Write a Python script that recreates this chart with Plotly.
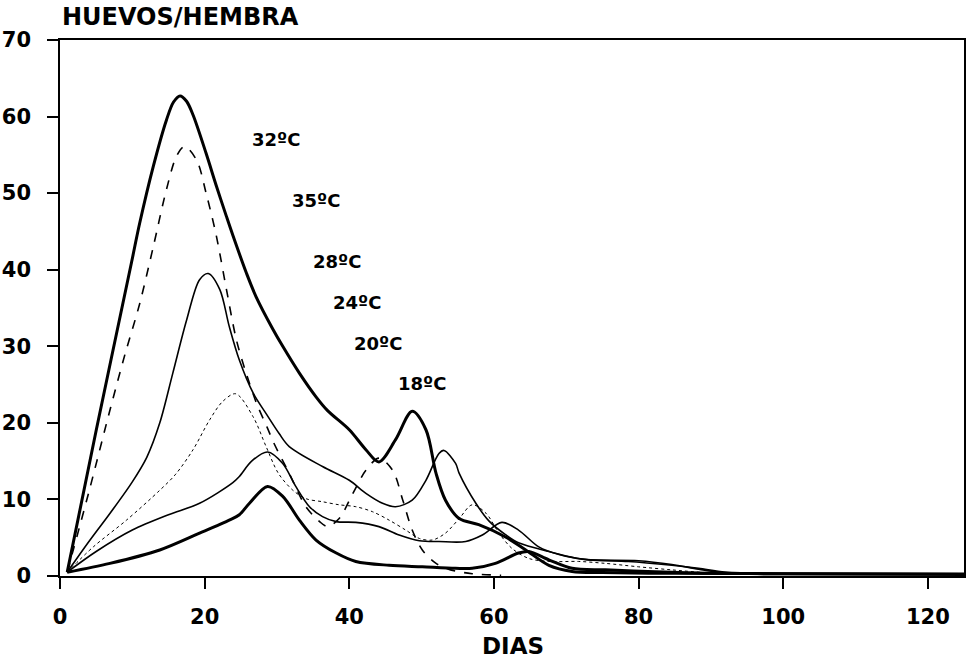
import plotly.graph_objects as go

# ---- data (days, eggs per female) ----
x_32 = [1, 5, 9.9, 11, 12.9, 14.7, 15.7, 16.6, 17.5, 18.4, 20.2, 21.6, 23, 23.9, 25.8, 27.1, 29.4, 30.8, 33.1, 35.4, 37, 40, 42.3, 44.1, 46.4, 48.7, 50.6, 52, 53.3, 55.2, 57.9, 61.6, 64.4, 67.6, 70.8, 75, 85, 100, 125]
y_32 = [0.5, 19, 41, 46, 53.5, 59.5, 61.9, 62.7, 62.0, 60.2, 55.2, 51, 47, 44.5, 39.5, 36.5, 32.3, 30, 26.5, 23.4, 21.6, 19.1, 16.5, 14.9, 17.8, 21.5, 19.1, 13.4, 9.9, 7.5, 6.7, 5.1, 3.4, 1.4, 0.6, 0.45, 0.35, 0.3, 0.25]

x_35 = [1, 4, 7, 9, 11, 12.9, 14.7, 16.1, 17.2, 18.9, 20.2, 21.6, 23, 24.4, 25.8, 27.2, 28.6, 29.6, 31.7, 34, 35.9, 37, 38.6, 40.5, 42.3, 44.1, 46, 47.4, 48.7, 50.1, 52, 54, 57, 61]
y_35 = [0.5, 11, 22, 29, 35.5, 43, 50.4, 54.8, 56.1, 54.3, 50, 44.5, 37.5, 30.8, 26.3, 22.5, 19.5, 17.3, 13.4, 9.05, 7.1, 6.45, 7.5, 10.8, 13.8, 15.4, 13.8, 9.9, 6.0, 3.4, 1.65, 0.8, 0.3, 0.1]

x_28 = [1, 4, 7, 10, 12, 13.8, 15.6, 17.5, 19.3, 20.5, 22.1, 23.4, 24.8, 26.7, 28.5, 30.3, 31.7, 36.3, 40, 42.3, 44.6, 46.4, 48.7, 50.6, 52.4, 53.1, 54.7, 55.2, 57.5, 59.3, 61.6, 63.5, 67.6, 72.2, 80, 84.6, 88.3, 92, 100, 110]
y_28 = [0.5, 4.5, 8.3, 12.3, 15.5, 20, 26.5, 33.4, 38.7, 39.5, 37.4, 32.6, 28.2, 23.9, 21.2, 18.6, 16.9, 14.3, 12.5, 10.8, 9.5, 9.05, 9.9, 12.5, 16.0, 16.4, 14.7, 13.4, 9.5, 7.2, 5.4, 4.3, 3.2, 2.2, 2.0, 1.5, 0.9, 0.4, 0.3, 0.25]

x_24 = [1, 4.6, 9.2, 13.8, 16, 18.4, 20.7, 22.5, 24.3, 26.7, 28.5, 30.2, 32.2, 34, 36.3, 38.6, 40.9, 43.2, 45.5, 47.8, 49.7, 51.5, 53.3, 55.2, 57, 58.9, 60.7, 62.5, 64.8, 67.6, 71.7, 75.4, 80, 84.6, 90, 100]
y_24 = [0.5, 3.8, 7.3, 11.2, 13.3, 16.5, 20.4, 22.8, 23.8, 20.8, 16.9, 13.4, 11.2, 10.1, 9.7, 9.3, 9.05, 8.4, 7.3, 6.0, 4.9, 4.7, 5.6, 7.5, 9.3, 8.2, 5.6, 3.6, 2.3, 1.9, 1.9, 1.65, 1.2, 0.8, 0.4, 0.25]

x_20 = [1, 5, 10, 15, 19.3, 23.9, 24.8, 26.5, 28.7, 30.8, 32.6, 34.5, 36.3, 38.2, 40.9, 44.1, 46.9, 49.7, 52.4, 56.1, 58.4, 61.1, 63.4, 66.2, 69, 73.1, 78.6, 84.6, 88.3, 92, 100, 110]
y_20 = [0.5, 3.2, 6.0, 8.0, 9.5, 12.2, 13, 15, 16.2, 14.7, 11.7, 9.05, 7.75, 7.1, 7.0, 6.45, 5.35, 4.6, 4.5, 4.5, 5.35, 7.0, 6.0, 3.8, 2.8, 2.1, 1.9, 1.4, 1.0, 0.5, 0.3, 0.25]

x_18 = [1, 6.9, 13.8, 19.3, 23.4, 24.8, 26.2, 28.7, 30.8, 33.1, 35.4, 38.2, 40.9, 45.5, 50.1, 54.7, 57, 60.2, 63.4, 64.8, 67.6, 70.8, 75.4, 82.3, 90, 100, 125]
y_18 = [0.5, 1.65, 3.4, 5.6, 7.3, 8.0, 9.5, 11.7, 10.4, 7.3, 4.7, 3.0, 1.9, 1.4, 1.2, 1.0, 1.0, 1.65, 3.0, 3.2, 2.1, 1.0, 0.8, 0.56, 0.35, 0.3, 0.2]

labels = ["32ºC", "35ºC", "28ºC", "24ºC", "20ºC", "18ºC"]
label_x = [29.8, 35.4, 38.3, 41.1, 44.0, 50.0]
label_y = [57.0, 49.0, 41.1, 35.7, 30.3, 25.1]

x_ticks = [0, 20, 40, 60, 80, 100, 120]
y_ticks = [0, 10, 20, 30, 40, 50, 60, 70]

# ---- figure ----
fig = go.Figure()
series = [
    (x_32, y_32, dict(color="black", width=3.0, dash="solid")),
    (x_35, y_35, dict(color="black", width=1.6, dash="dash")),
    (x_28, y_28, dict(color="black", width=1.6, dash="solid")),
    (x_24, y_24, dict(color="black", width=1.0, dash="dot")),
    (x_20, y_20, dict(color="black", width=1.6, dash="solid")),
    (x_18, y_18, dict(color="black", width=3.0, dash="solid")),
]
for (xs, ys, ln), name in zip(series, labels):
    fig.add_trace(go.Scatter(x=xs, y=ys, mode="lines", name=name,
                             line=dict(shape="spline", smoothing=0.9, **ln),
                             showlegend=False, hoverinfo="skip"))

for t, lx, ly in zip(labels, label_x, label_y):
    fig.add_annotation(x=lx, y=ly, xref="x", yref="y", text=t, showarrow=False,
                       font=dict(family="DejaVu Sans", size=18, color="black", weight="bold"),
                       xanchor="center", yanchor="middle")

fig.add_annotation(x=0, y=1.043, xref="paper", yref="paper", text="HUEVOS/HEMBRA",
                   showarrow=False, xanchor="left", yanchor="middle",
                   font=dict(family="DejaVu Sans", size=24, color="black", weight="bold"))
fig.add_annotation(x=0.501, y=-0.131, xref="paper", yref="paper", text="DIAS",
                   showarrow=False, xanchor="center", yanchor="middle",
                   font=dict(family="DejaVu Sans", size=23, color="black", weight="bold"))

axis_common = dict(showgrid=False, zeroline=False, showline=True, linecolor="black",
                   linewidth=1.5, mirror=True, ticks="outside", ticklen=11,
                   tickwidth=1.5, tickcolor="black",
                   tickfont=dict(family="DejaVu Sans", size=21, color="black", weight="bold"))

fig.update_xaxes(range=[0, 125], tickvals=x_ticks, ticktext=[str(v) for v in x_ticks],
                 ticklabelstandoff=10, **axis_common)
fig.update_yaxes(range=[0, 70], tickvals=y_ticks, ticktext=[str(v) for v in y_ticks],
                 ticklabelstandoff=12, **axis_common)

fig.update_layout(width=968, height=658, margin=dict(l=60, r=2, t=40, b=82),
                  plot_bgcolor="white", paper_bgcolor="white")

fig.write_html("out.html")
